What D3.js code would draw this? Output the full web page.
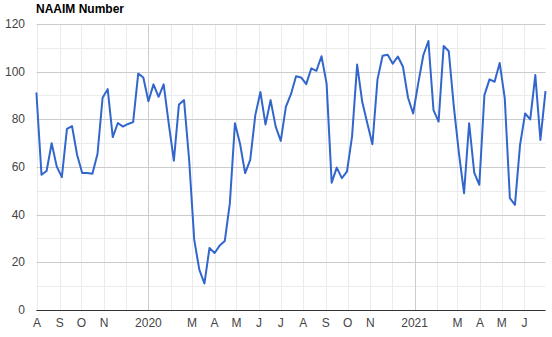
<!DOCTYPE html>
<html>
<head>
<meta charset="utf-8">
<script src="https://cdn.jsdelivr.net/npm/d3@7"></script>
<style>
  body { margin: 0; background: #fff; }
  text { font-family: Arial, "Liberation Sans", sans-serif; }
</style>
</head>
<body>
<div id="chart"></div>
<script>
// weekly readings, first one on Wed 2019-07-31
var firstWeek = "2019-07-31";
var naaimValues = [
  91.2, 56.7, 58.3, 69.9, 60.1, 55.7, 75.9, 77.1, 65.0, 57.4,
  57.4, 57.1, 65.4, 89.0, 92.6, 72.5, 78.4, 76.9, 78.0, 78.8,
  99.1, 97.5, 87.5, 94.6, 89.4, 94.6, 78.0, 62.6, 86.2, 88.0,
  63.0, 29.5, 16.9, 11.1, 26.0, 23.9, 27.0, 28.9, 44.8, 78.3,
  69.7, 57.4, 62.9, 81.7, 91.4, 77.8, 88.0, 76.9, 70.9, 85.2,
  90.5, 98.0, 97.5, 94.7, 101.3, 100.3, 106.4, 95.0, 53.4, 59.7,
  55.3, 58.0, 72.7, 102.9, 87.3, 78.3, 69.5, 96.7, 106.6, 107.0,
  103.3, 106.3, 102.0, 89.0, 82.4, 95.0, 106.8, 112.8, 83.8, 79.0,
  110.7, 108.5, 85.2, 65.7, 49.0, 78.3, 57.6, 52.5, 90.1, 96.7,
  95.7, 103.6, 88.7, 46.9, 44.1, 69.2, 82.4, 79.9, 98.5, 71.3,
  91.8
];
var monthTicks = ["2019-08-01","2019-09-01","2019-10-01","2019-11-01","2019-12-01","2020-01-01","2020-02-01",
  "2020-03-01","2020-04-01","2020-05-01","2020-06-01","2020-07-01","2020-08-01","2020-09-01","2020-10-01",
  "2020-11-01","2020-12-01","2021-01-01","2021-02-01","2021-03-01","2021-04-01","2021-05-01","2021-06-01"];
var monthLabels = ["A","S","O","N","","2020","","M","A","M","J","J","A","S","O","N","","2021","","M","A","M","J"];
var yTicks = [0, 20, 40, 60, 80, 100, 120];
var yMinor = [10, 30, 50, 70, 90, 110];

var width = 552, height = 337;
var parse = d3.utcParse("%Y-%m-%d");
var start = parse(firstWeek);
var data = naaimValues.map(function(v, i) { return {date: d3.utcDay.offset(start, i * 7), value: v}; });
var ticks = monthTicks.map(parse);

var x = d3.scaleUtc()
    .domain([start, data[data.length - 1].date])
    .range([36.4, 545.5]);
var y = d3.scaleLinear()
    .domain([0, 120])
    .range([310, 23.8]);

var svg = d3.select("#chart").append("svg")
    .attr("width", width)
    .attr("height", height);

svg.append("text")
    .attr("x", 36)
    .attr("y", 13)
    .attr("font-size", 12)
    .attr("font-weight", "bold")
    .attr("fill", "#000")
    .text("NAAIM Number");

// minor horizontal grid
svg.append("g").selectAll("line")
  .data(yMinor)
  .enter().append("line")
    .attr("x1", x.range()[0]).attr("x2", x.range()[1])
    .attr("y1", function(d) { return Math.round(y(d)) + 0.5; })
    .attr("y2", function(d) { return Math.round(y(d)) + 0.5; })
    .attr("stroke", "#ebebeb");

// vertical month grid
svg.append("g").selectAll("line")
  .data(ticks)
  .enter().append("line")
    .attr("x1", function(d) { return Math.round(x(d)) + 0.5; })
    .attr("x2", function(d) { return Math.round(x(d)) + 0.5; })
    .attr("y1", y(120)).attr("y2", y(0))
    .attr("stroke", function(d) { return d.getUTCMonth() == 0 ? "#cccccc" : "#ebebeb"; });

// major horizontal grid
svg.append("g").selectAll("line")
  .data(yTicks.filter(function(d) { return d > 0; }))
  .enter().append("line")
    .attr("x1", x.range()[0]).attr("x2", x.range()[1])
    .attr("y1", function(d) { return Math.round(y(d)) + 0.5; })
    .attr("y2", function(d) { return Math.round(y(d)) + 0.5; })
    .attr("stroke", "#cccccc");

svg.append("g").selectAll("text")
  .data(yTicks)
  .enter().append("text")
    .attr("x", 25)
    .attr("y", function(d) { return y(d) + 4; })
    .attr("text-anchor", "end")
    .attr("font-size", 12)
    .attr("fill", "#444")
    .text(function(d) { return d; });

svg.append("g").selectAll("text")
  .data(ticks)
  .enter().append("text")
    .attr("x", function(d) { return x(d); })
    .attr("y", 327)
    .attr("text-anchor", "middle")
    .attr("font-size", 12)
    .attr("fill", "#444")
    .text(function(d, i) { return monthLabels[i]; });

var line = d3.line()
    .x(function(d) { return x(d.date); })
    .y(function(d) { return y(d.value); });

svg.append("path")
    .datum(data)
    .attr("fill", "none")
    .attr("stroke", "#3366cc")
    .attr("stroke-width", 2)
    .attr("stroke-linejoin", "round")
    .attr("d", line);

// baseline
svg.append("line")
    .attr("x1", x.range()[0]).attr("x2", x.range()[1])
    .attr("y1", Math.round(y(0)) + 0.5).attr("y2", Math.round(y(0)) + 0.5)
    .attr("stroke", "#333");
</script>
</body>
</html>
